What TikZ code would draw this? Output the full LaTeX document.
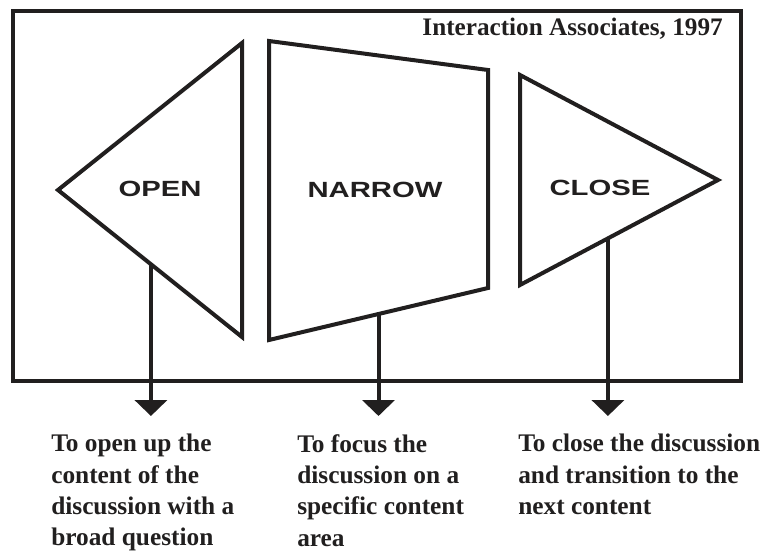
\documentclass[tikz,border=0pt]{standalone}
\usepackage{fontspec}
\setmainfont{Liberation Serif}
\newfontfamily\phasefont[FakeStretch=1.33]{Liberation Sans}
\usetikzlibrary{arrows.meta, calc}
\definecolor{InkBlack}{rgb}{0.13, 0.12, 0.12}

\begin{document}
\begin{tikzpicture}[
    x=0.75pt, y=-0.75pt,
    outline/.style={draw=InkBlack, line width=3pt, line join=miter},
    phase/.style={font=\phasefont\bfseries\fontsize{16.5}{18}\selectfont,
        text=InkBlack, inner sep=0pt},
    purpose/.style={font=\bfseries\fontsize{19}{23.5}\selectfont,
        text=InkBlack, align=left, anchor=north west, inner sep=0pt},
    flow/.style={-{Triangle[width=24pt, length=12pt]}, line width=3pt, InkBlack},
]
\useasboundingbox (0,0) rectangle (767,552);

% frame
\draw[outline] (13,11) rectangle (741,381);
\node[font=\bfseries\fontsize{18.9}{20}\selectfont, text=InkBlack, anchor=base east,
      inner sep=0pt] (source) at (723,36) {Interaction Associates, 1997};

% main shapes
\coordinate (otip) at (58,190);
\coordinate (otop) at (242,43);
\coordinate (obot) at (242,337);
\draw[outline] (otip) -- (otop) -- (obot) -- cycle;
\node[phase] (open) at (160,189) {OPEN};

\coordinate (ntl) at (269,41);
\coordinate (ntr) at (488,70);
\coordinate (nbr) at (488,288);
\coordinate (nbl) at (269,340);
\draw[outline] (ntl) -- (ntr) -- (nbr) -- (nbl) -- cycle;
\node[phase] (narrow) at (375,190) {NARROW};

\coordinate (ctop) at (520,75);
\coordinate (ctip) at (718,180);
\coordinate (cbot) at (520,285);
\draw[outline] (ctop) -- (ctip) -- (cbot) -- cycle;
\node[phase] (close) at (600,188) {CLOSE};

% flows down to the purposes
\coordinate (tipline) at (0,416);
\coordinate (ofoot) at ($(otip)!0.505!(obot)$);
\coordinate (nfoot) at ($(nbl)!0.5!(nbr)$);
\coordinate (cfoot) at ($(cbot)!0.444!(ctip)$);
\draw[flow] (ofoot) -- (ofoot |- tipline);
\draw[flow] (nfoot) -- (nfoot |- tipline);
\draw[flow] (cfoot) -- (cfoot |- tipline);

\node[purpose] (openwhy) at (51,434)
    {To open up the\\content of the\\discussion with a\\broad question};
\node[purpose] (narrowwhy) at (297,434)
    {To focus the\\discussion on a\\specific content\\area};
\node[purpose] (closewhy) at (518,434)
    {To close the discussion\\and transition to the\\next content};

\end{tikzpicture}
\end{document}
